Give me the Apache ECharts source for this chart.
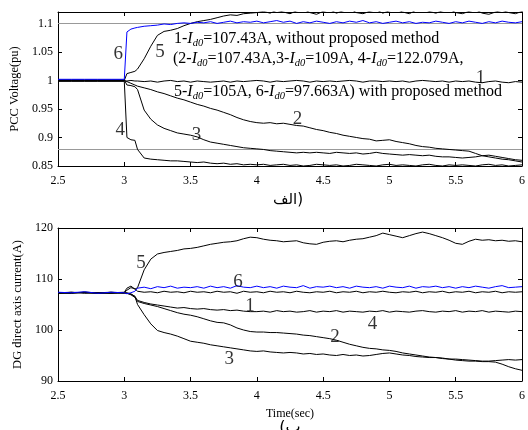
<!DOCTYPE html>
<html><head><meta charset="utf-8">
<script src="https://cdn.jsdelivr.net/npm/echarts@6/dist/echarts.min.js"></script>
<style>html,body{margin:0;padding:0;background:#fff}#c{width:528px;height:430px}</style>
</head><body><div id="c"></div>
<script>
// Shared time samples (s)
const T = [2.5,2.6,2.7,2.8,2.9,3.0,
  3.02,3.05,3.08,
  3.1,3.15,3.2,3.25,3.3,3.35,3.4,3.45,3.5,
  3.55,3.6,3.65,3.7,3.75,3.8,3.85,3.9,3.95,4.0,
  4.05,4.1,4.15,4.2,4.25,4.3,4.35,4.4,4.45,4.5,
  4.55,4.6,4.65,4.7,4.75,4.8,4.85,4.9,4.95,5.0,
  5.05,5.1,5.15,5.2,5.25,5.3,5.35,5.4,5.45,5.5,
  5.55,5.6,5.65,5.7,5.75,5.8,5.85,5.9,5.95,6.0];

// (a) PCC voltage (pu)
const V1 = [0.999,0.999,0.999,0.999,0.999,0.999,
  0.999,1.0,0.999,
  0.999,0.998,0.999,0.997,0.999,1.0,0.998,0.999,0.997,
  0.999,0.998,0.997,0.998,0.999,0.997,0.999,0.998,0.999,1.0,
  0.999,0.997,0.999,0.998,0.999,1.0,0.999,0.997,0.999,0.998,
  0.999,0.998,0.999,1.0,0.999,0.997,0.999,0.999,0.998,0.999,
  0.998,0.999,0.997,0.999,1.0,0.999,0.998,0.999,0.997,0.999,
  0.998,0.999,0.997,0.996,0.998,0.999,0.997,0.996,0.998,0.997];
const V2 = [1,1,1,1,1,1,
  0.998,0.995,0.992,
  0.99,0.987,0.984,0.98,0.977,0.973,0.969,0.966,0.962,
  0.958,0.955,0.951,0.948,0.944,0.94,0.935,0.931,0.928,0.926,
  0.925,0.926,0.924,0.925,0.923,0.921,0.92,0.917,0.914,0.912,
  0.909,0.907,0.904,0.902,0.9,0.898,0.897,0.894,0.895,0.896,
  0.893,0.891,0.889,0.886,0.884,0.883,0.881,0.88,0.879,0.878,
  0.877,0.876,0.872,0.868,0.866,0.864,0.862,0.861,0.859,0.857];
const V3 = [1.001,1.001,1.001,1.001,1.001,1.001,
  0.992,0.991,0.989,
  0.984,0.948,0.932,0.922,0.916,0.912,0.908,0.906,0.904,
  0.901,0.896,0.892,0.89,0.888,0.886,0.884,0.882,0.881,0.88,
  0.879,0.877,0.876,0.875,0.874,0.873,0.874,0.873,0.874,0.873,
  0.872,0.874,0.873,0.872,0.873,0.871,0.872,0.874,0.872,0.871,
  0.87,0.869,0.87,0.869,0.868,0.869,0.867,0.866,0.866,0.865,
  0.864,0.865,0.866,0.868,0.869,0.867,0.865,0.863,0.861,0.86];
const V4 = [0.9985,0.9985,0.9985,0.9985,0.9985,0.9985,
  0.9,0.896,0.895,
  0.879,0.864,0.862,0.861,0.86,0.859,0.859,0.858,0.857,
  0.856,0.857,0.855,0.854,0.855,0.853,0.854,0.852,0.853,0.852,
  0.853,0.851,0.852,0.853,0.851,0.852,0.85,0.851,0.853,0.852,
  0.851,0.852,0.85,0.851,0.853,0.852,0.851,0.85,0.852,0.853,
  0.851,0.852,0.851,0.85,0.852,0.853,0.851,0.85,0.852,0.851,
  0.852,0.851,0.85,0.852,0.853,0.851,0.852,0.85,0.851,0.852];
const V5 = [1,1,1,1,1,1,
  1.012,1.014,1.016,
  1.02,1.038,1.06,1.079,1.086,1.088,1.091,1.096,1.1,
  1.103,1.105,1.107,1.11,1.113,1.115,1.114,1.117,1.118,1.119,
  1.121,1.118,1.123,1.12,1.117,1.122,1.125,1.119,1.116,1.121,
  1.124,1.118,1.122,1.126,1.119,1.117,1.121,1.124,1.118,1.122,
  1.125,1.12,1.117,1.123,1.126,1.121,1.118,1.122,1.125,1.119,
  1.117,1.121,1.124,1.118,1.116,1.12,1.123,1.119,1.117,1.121];
const V6 = [1.002,1.002,1.002,1.002,1.002,1.002,
  1.085,1.09,1.092,
  1.093,1.095,1.096,1.097,1.099,1.098,1.1,1.101,1.1,
  1.102,1.101,1.103,1.1,1.102,1.104,1.101,1.103,1.102,1.104,
  1.101,1.103,1.105,1.102,1.104,1.1,1.103,1.101,1.104,1.102,
  1.1,1.103,1.101,1.104,1.102,1.105,1.101,1.103,1.1,1.102,
  1.104,1.101,1.103,1.1,1.102,1.101,1.104,1.102,1.1,1.103,
  1.101,1.104,1.102,1.1,1.103,1.101,1.104,1.102,1.101,1.103];
const V_LIMITS = [1.1, 0.88];

// (b) DG direct-axis current (A)
const B1 = [107.3,107.2,107.4,107.3,107.2,107.3,
  107.8,108.3,108.1,
  107.6,107.4,107.5,107.3,107.6,107.4,107.5,107.3,107.6,
  107.4,107.5,107.3,107.6,107.4,107.5,107.2,107.6,107.4,107.5,
  107.3,107.6,107.4,107.5,107.3,107.6,107.4,107.3,107.5,107.4,
  107.6,107.3,107.5,107.4,107.6,107.3,107.5,107.4,107.6,107.4,
  107.3,107.5,107.4,107.6,107.3,107.5,107.4,107.6,107.3,107.5,
  107.4,107.6,107.3,107.5,107.4,107.6,107.3,107.5,107.4,107.5];
const B2 = [107.2,107.4,107.3,107.2,107.4,107.3,
  107.2,106.9,106.4,
  105.6,105.2,104.9,104.6,104.2,103.8,103.4,103.1,102.9,
  102.6,102.2,101.8,101.5,101.4,101.0,100.4,100.0,99.7,99.6,
  99.6,99.5,99.5,99.4,99.3,99.2,99.0,98.9,98.7,98.5,
  98.3,98.0,97.6,97.2,96.9,96.6,96.4,96.3,96.1,96.0,
  95.8,95.5,95.3,95.1,94.9,94.7,94.6,94.4,94.3,94.1,
  94.0,93.9,93.9,93.8,93.8,93.7,93.3,92.8,92.4,92.1];
const B3 = [107.3,107.2,107.4,107.3,107.2,107.3,
  107.3,107.1,106.6,
  105.0,103.0,101.2,99.9,99.5,99.2,98.8,98.3,97.8,
  97.6,97.4,97.1,96.9,96.7,96.5,96.3,96.1,95.9,95.8,
  95.9,95.7,95.6,95.5,95.6,95.5,95.3,95.4,95.2,95.3,
  95.1,95.0,95.2,95.0,95.1,94.9,95.0,95.2,95.4,95.5,
  95.3,95.1,95.0,94.8,94.7,94.6,94.6,94.5,94.3,94.3,
  94.2,94.1,94.0,93.9,93.9,94.0,94.1,94.2,94.1,94.2];
const B4 = [107.3,107.4,107.2,107.3,107.4,107.2,
  107.2,107.0,106.6,
  105.8,105.4,105.1,104.9,104.7,104.5,104.3,104.4,104.2,
  104.1,104.2,104.0,103.9,104.0,103.8,103.9,103.7,103.6,103.6,
  103.7,103.5,103.8,103.6,103.7,103.5,103.6,103.8,103.5,103.7,
  103.6,103.8,103.5,103.7,103.6,103.5,103.7,103.6,103.8,103.5,
  103.7,103.6,103.5,103.7,103.8,103.6,103.5,103.7,103.6,103.8,
  103.5,103.7,103.6,103.8,103.5,103.7,103.6,103.5,103.7,103.6];
const B5 = [107.2,107.3,107.4,107.2,107.3,107.4,
  108.2,108.6,108.0,
  108.3,111.8,113.9,114.9,115.2,115.4,115.6,115.9,116.0,
  116.2,116.5,116.8,117.0,117.2,117.3,117.5,117.9,118.2,118.1,
  117.8,117.6,117.5,117.3,117.4,117.5,117.1,116.9,116.8,117.2,
  117.4,117.5,117.3,117.6,117.8,117.9,118.2,118.5,119.0,118.7,
  118.4,118.1,118.5,118.9,119.2,118.9,118.5,118.1,117.6,117.0,
  116.8,117.4,117.8,117.6,117.7,117.5,117.6,117.4,117.5,117.3];
const B6 = [107.4,107.3,107.5,107.2,107.4,107.3,
  107.1,107.3,107.6,
  108.2,108.4,108.1,108.5,108.3,108.6,108.2,108.4,108.3,
  108.5,108.2,108.6,108.3,108.5,108.2,108.7,108.4,108.3,108.6,
  108.3,108.5,108.2,108.6,108.4,108.3,108.7,108.2,108.5,108.4,
  108.6,108.3,108.5,108.2,108.6,108.4,108.3,108.5,108.2,108.6,
  108.4,108.3,108.6,108.2,108.5,108.4,108.6,108.3,108.5,108.2,
  108.5,108.3,108.6,108.4,108.2,108.5,108.7,108.3,108.4,108.5];

// curve-number annotations (data coordinates)
const TOP_LBL_TEXT = ['6','5','4','3','2','1'];
const TOP_LBL_T = [2.955, 3.269, 2.97, 3.545, 4.306, 5.687];
const TOP_LBL_V = [1.047, 1.049, 0.913, 0.904, 0.932, 1.005];
const BOT_LBL_TEXT = ['5','6','1','3','2','4'];
const BOT_LBL_T = [3.127, 3.858, 3.948, 3.791, 4.590, 4.873];
const BOT_LBL_V = [113.2, 109.5, 104.8, 94.3, 98.6, 101.1];

const SERIF = "'Liberation Serif','Times New Roman',serif";
const pair = (vals) => T.map((t, i) => [t, vals[i]]);

function xAxisDef(grid, pos, extra) {
  return Object.assign({
    gridIndex: grid, type: 'value', min: 2.5, max: 6, interval: 0.5, position: pos,
    axisLine: { show: true, onZero: false, lineStyle: { color: '#000', width: 1 } },
    axisTick: { show: true, inside: true, length: 4, lineStyle: { color: '#000' } },
    axisLabel: { show: pos === 'bottom', color: '#000', fontFamily: SERIF, fontSize: 12, margin: 9 },
    splitLine: { show: false }
  }, extra || {});
}
function yAxisDef(grid, pos, min, max, interval, extra) {
  return Object.assign({
    gridIndex: grid, type: 'value', min: min, max: max, interval: interval, position: pos,
    axisLine: { show: true, onZero: false, lineStyle: { color: '#000', width: 1 } },
    axisTick: { show: true, inside: true, length: 4, lineStyle: { color: '#000' } },
    axisLabel: { show: pos === 'left', color: '#000', fontFamily: SERIF, fontSize: 12, margin: 5, showMaxLabel: grid === 0 ? false : true },
    splitLine: { show: false }
  }, extra || {});
}
function lineSeries(xi, vals, color, z) {
  return { type: 'line', xAxisIndex: xi, yAxisIndex: xi, data: pair(vals), showSymbol: false, symbol: 'none',
    lineStyle: { color: color, width: 1 }, z: z || 2, animation: false, clip: true };
}
function labelSeries(xi, ts, vs, texts) {
  return { type: 'scatter', xAxisIndex: xi, yAxisIndex: xi, symbolSize: 0, z: 6, animation: false,
    data: ts.map((t, i) => [t, vs[i], texts[i]]),
    label: { show: true, position: 'inside', formatter: p => p.value[2], color: '#000', fontFamily: SERIF, fontSize: 19 } };
}

const sub = { fontStyle: 'italic', fontSize: 10.5, fontFamily: SERIF, verticalAlign: 'bottom', lineHeight: 12, fill: '#000' };
const ital = { fontStyle: 'italic', fontSize: 16, fontFamily: SERIF, lineHeight: 19, fill: '#000' };
function annot(x, y, text) {
  return { type: 'text', x: x, y: y, z: 10,
    style: { text: text, fill: '#000', fontFamily: SERIF, fontSize: 16, lineHeight: 19, align: 'left', verticalAlign: 'middle',
      rich: { i: ital, s: sub } } };
}

const chart = echarts.init(document.getElementById('c'));
chart.setOption({
  animation: false,
  grid: [
    { left: 58, top: 12, width: 468, height: 154 },
    { left: 58, top: 228, width: 468, height: 153 }
  ],
  xAxis: [
    xAxisDef(0, 'bottom'), xAxisDef(0, 'top'),
    xAxisDef(1, 'bottom', { name: 'Time(sec)', nameLocation: 'middle', nameGap: 27,
      nameTextStyle: { color: '#000', fontFamily: SERIF, fontSize: 12 } }),
    xAxisDef(1, 'top')
  ],
  yAxis: [
    yAxisDef(0, 'left', 0.85, 1.12, 0.05, { name: 'PCC Voltage(pu)', nameLocation: 'middle', nameGap: 37,
      nameTextStyle: { color: '#000', fontFamily: SERIF, fontSize: 12.5 } }),
    yAxisDef(0, 'right', 0.85, 1.12, 0.05),
    yAxisDef(1, 'left', 90, 120, 10, { name: 'DG direct axis current(A)', nameLocation: 'middle', nameGap: 34,
      nameTextStyle: { color: '#000', fontFamily: SERIF, fontSize: 12.5 } }),
    yAxisDef(1, 'right', 90, 120, 10)
  ],
  series: [
    Object.assign(lineSeries(0, V1, '#000'), {
      markLine: { silent: true, symbol: 'none', z: 1, animation: false, label: { show: false },
        lineStyle: { color: '#999', type: 'solid', width: 1 },
        data: V_LIMITS.map(v => ({ yAxis: v })) } }),
    lineSeries(0, V2, '#000'), lineSeries(0, V3, '#000'), lineSeries(0, V4, '#000'),
    lineSeries(0, V5, '#000'), lineSeries(0, V6, '#0000ff', 3),
    labelSeries(0, TOP_LBL_T, TOP_LBL_V, TOP_LBL_TEXT),
    lineSeries(2, B1, '#000'), lineSeries(2, B2, '#000'), lineSeries(2, B3, '#000'),
    lineSeries(2, B4, '#000'), lineSeries(2, B5, '#000'), lineSeries(2, B6, '#0000ff', 3),
    labelSeries(2, BOT_LBL_T, BOT_LBL_V, BOT_LBL_TEXT)
  ],
  graphic: [
    annot(174, 39, '1-{i|I}{s|d0}=107.43A, without proposed method'),
    annot(173, 59, '(2-{i|I}{s|d0}=107.43A,3-{i|I}{s|d0}=109A, 4-{i|I}{s|d0}=122.079A,'),
    annot(174, 92, '5-{i|I}{s|d0}=105A, 6-{i|I}{s|d0}=97.663A) with proposed method'),
    { type: 'text', x: 288, y: 200, style: { text: 'الف)', fill: '#000', fontFamily: "'DejaVu Sans',sans-serif", fontSize: 15, align: 'center', verticalAlign: 'middle' } },
    { type: 'text', x: 290, y: 428, style: { text: '(ب', fill: '#000', fontFamily: "'DejaVu Sans',sans-serif", fontSize: 16, align: 'center', verticalAlign: 'middle' } }
  ]
});
</script>
</body></html>
